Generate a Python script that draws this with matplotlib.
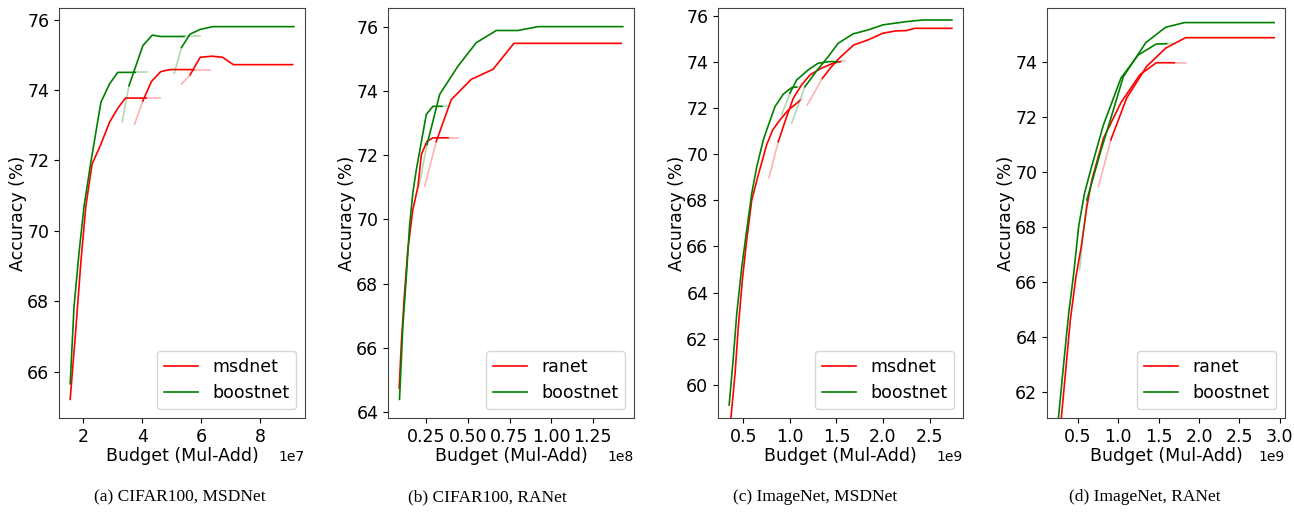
import numpy as np
import matplotlib
matplotlib.use("Agg")
import matplotlib.pyplot as plt
from matplotlib.ticker import MultipleLocator

# -----------------------------
# Data (budget in raw Mul-Add, accuracy in %)
# each panel: list of curves, one list per curve
# -----------------------------
a_red_x = [[1.56, 1.75, 1.92, 2.09, 2.30, 2.60, 2.89, 3.17, 3.43, 4.59],
           [3.74, 4.02, 4.31, 4.62, 4.94, 6.28],
           [5.33, 5.62, 5.96, 6.36, 6.72, 7.08, 9.09]]
a_red_y = [[65.21, 67.19, 69.09, 70.70, 71.89, 72.46, 73.08, 73.48, 73.77, 73.77],
           [73.03, 73.69, 74.24, 74.52, 74.58, 74.58],
           [74.17, 74.43, 74.93, 74.96, 74.93, 74.72, 74.72]]
a_green_x = [[1.56, 1.69, 1.86, 2.03, 2.26, 2.60, 2.89, 3.17, 4.16],
             [3.32, 3.55, 4.02, 4.34, 4.62, 5.94],
             [5.08, 5.33, 5.62, 5.96, 6.39, 9.13]]
a_green_y = [[65.65, 67.85, 69.38, 70.70, 71.95, 73.65, 74.17, 74.50, 74.50],
             [73.10, 74.12, 75.26, 75.56, 75.52, 75.52],
             [74.47, 75.21, 75.59, 75.72, 75.80, 75.80]]

b_red_x = [[0.087, 0.10, 0.119, 0.139, 0.169, 0.20, 0.22, 0.254, 0.29, 0.44],
           [0.24, 0.31, 0.40, 0.52, 0.65, 0.776, 1.42]]
b_red_y = [[64.75, 66.15, 67.70, 69.06, 70.30, 71.03, 72.02, 72.43, 72.54, 72.54],
           [71.03, 72.43, 73.73, 74.36, 74.67, 75.48, 75.48]]
b_green_x = [[0.089, 0.109, 0.13, 0.149, 0.169, 0.19, 0.25, 0.29, 0.38],
             [0.206, 0.254, 0.29, 0.33, 0.44, 0.55, 0.67, 0.80, 0.92, 1.43]]
b_green_y = [[64.40, 66.67, 68.23, 69.78, 70.83, 71.55, 73.27, 73.52, 73.52],
             [71.03, 72.33, 73.06, 73.89, 74.77, 75.50, 75.88, 75.88, 76.00, 76.00]]

c_red_x = [[0.36, 0.411, 0.446, 0.489, 0.536, 0.59, 0.66, 0.75, 0.815, 0.893, 0.982, 1.072, 1.126],
           [0.775, 0.875, 0.947, 1.036, 1.126, 1.215, 1.322, 1.464, 1.59],
           [1.186, 1.35, 1.447, 1.536, 1.686, 1.84, 2.0, 2.143, 2.25, 2.34, 2.74]]
c_red_y = [[58.3, 60.51, 62.53, 64.55, 66.28, 68.01, 69.1, 70.4, 71.05, 71.48, 71.91, 72.2, 72.39],
           [68.98, 70.54, 71.41, 72.42, 73.0, 73.43, 73.69, 73.94, 74.05],
           [72.13, 73.29, 73.79, 74.18, 74.73, 74.95, 75.24, 75.34, 75.35, 75.45, 75.45]]
c_green_x = [[0.347, 0.393, 0.429, 0.483, 0.536, 0.59, 0.644, 0.714, 0.751, 0.84, 0.929, 1.019, 1.108],
             [0.911, 1.0, 1.072, 1.197, 1.304, 1.43, 1.554],
             [1.019, 1.161, 1.286, 1.411, 1.518, 1.679, 1.84, 2.0, 2.25, 2.43, 2.74]]
c_green_y = [[59.13, 61.23, 63.1, 65.12, 66.71, 68.3, 69.46, 70.61, 71.05, 72.06, 72.6, 72.88, 72.92],
             [71.7, 72.64, 73.21, 73.65, 73.94, 74.01, 74.0],
             [71.34, 72.92, 73.6, 74.22, 74.8, 75.21, 75.38, 75.6, 75.74, 75.81, 75.81]]

d_red_x = [[0.28, 0.352, 0.405, 0.475, 0.54, 0.61, 0.672, 0.815, 1.032, 1.266, 1.47, 1.84],
           [0.753, 0.906, 1.102, 1.348, 1.586, 1.832, 2.93]]
d_red_y = [[60.6, 62.91, 64.61, 66.18, 67.27, 68.73, 69.7, 71.21, 72.51, 73.52, 73.96, 73.96],
           [69.45, 71.15, 72.67, 73.82, 74.49, 74.87, 74.87]]
d_green_x = [[0.25, 0.323, 0.385, 0.447, 0.508, 0.58, 0.66, 0.815, 1.032, 1.245, 1.47, 1.68],
             [0.52, 0.61, 0.774, 0.938, 1.061, 1.34, 1.586, 1.82, 2.93]]
d_green_y = [[60.8, 63.03, 64.85, 66.3, 68.0, 69.21, 70.09, 71.7, 73.4, 74.24, 74.64, 74.66],
             [66.43, 68.97, 70.67, 72.24, 73.45, 74.69, 75.25, 75.42, 75.42]]

scales = [1e7, 1e8, 1e9, 1e9]
xsteps = [2, 0.25, 0.5, 0.5]
baselines = ['msdnet', 'ranet', 'msdnet', 'ranet']
captions = ['(a) CIFAR100, MSDNet', '(b) CIFAR100, RANet',
            '(c) ImageNet, MSDNet', '(d) ImageNet, RANet']
panels = [(a_red_x, a_red_y, a_green_x, a_green_y),
          (b_red_x, b_red_y, b_green_x, b_green_y),
          (c_red_x, c_red_y, c_green_x, c_green_y),
          (d_red_x, d_red_y, d_green_x, d_green_y)]
ylims = [None, None, (58.57, 76.33), (61.04, 75.95)]

# -----------------------------
# Layout
# -----------------------------
W, H = 1294, 514
fig = plt.figure(figsize=(W / 100, H / 100), dpi=100)
ax_px = [(59, 246), (388, 246), (718, 245), (1047, 238)]
cap_x = [180, 487, 815, 1145]

LW = 1.2


def draw_curve(ax, xs, ys, color, fade_in, fade_out, label=None):
    xs = np.asarray(xs, dtype=float)
    ys = np.asarray(ys, dtype=float)
    if fade_in:
        ax.plot(xs[:2], ys[:2], color=color, alpha=0.3, lw=LW)
        sx, sy = xs[1:], ys[1:]
    else:
        sx, sy = xs, ys
    if fade_out:
        xm = sx[-2] + 0.6 * (sx[-1] - sx[-2])
        ym = sy[-2] + 0.6 * (sy[-1] - sy[-2])
        ax.plot([xm, sx[-1]], [ym, sy[-1]], color=color, alpha=0.3, lw=LW)
        sx = np.append(sx[:-1], xm)
        sy = np.append(sy[:-1], ym)
    ax.plot(sx, sy, color=color, lw=LW, label=label)


for i, (rx, ry, gx, gy) in enumerate(panels):
    left, width = ax_px[i]
    ax = fig.add_axes([left / W, 1 - 418 / H, width / W, 410 / H])
    n = len(rx)
    for k in range(n):
        draw_curve(ax, np.array(rx[k]) * scales[i], ry[k], 'red',
                   k > 0, k < n - 1, baselines[i] if k == 0 else None)
    n = len(gx)
    for k in range(n):
        draw_curve(ax, np.array(gx[k]) * scales[i], gy[k], 'green',
                   k > 0, k < n - 1, 'boostnet' if k == 0 else None)
    if ylims[i] is not None:
        ax.set_ylim(*ylims[i])
    ax.xaxis.set_major_locator(MultipleLocator(xsteps[i] * scales[i]))
    ax.yaxis.set_major_locator(MultipleLocator(2))
    ax.tick_params(labelsize=12.5)
    ax.xaxis.get_offset_text().set_fontsize(10)
    ax.set_xlabel('Budget (Mul-Add)', fontsize=12.5, labelpad=1)
    ax.set_ylabel('Accuracy (%)', fontsize=12.5, labelpad=0)
    ax.legend(loc='lower right', fontsize=12.5)
    for sp in ax.spines.values():
        sp.set_color('#444444')
    fig.text(cap_x[i] / W, 1 - 497 / H, captions[i], ha='center', va='center',
             fontsize=12.5, family='Liberation Serif')

fig.savefig('out.png', dpi=100)
